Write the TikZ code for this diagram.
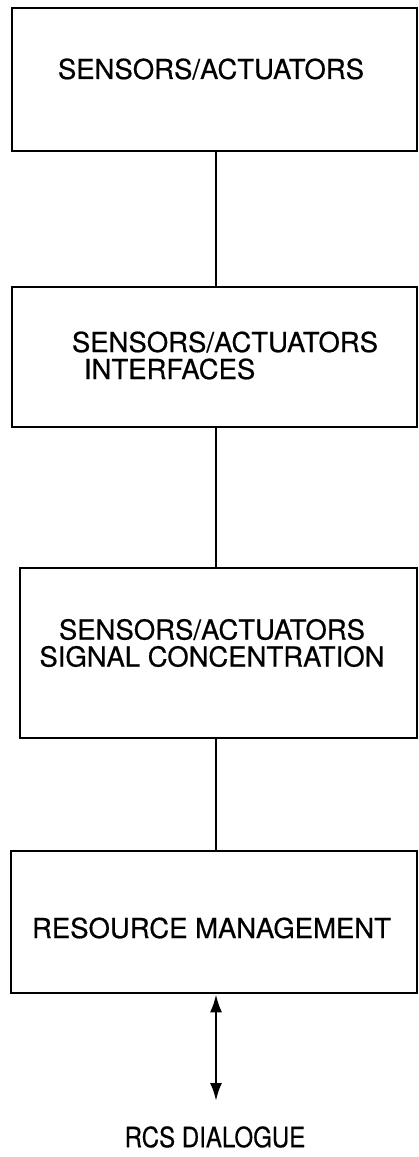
\documentclass[tikz,border=0pt]{standalone}
\usepackage{fontspec}
\newfontfamily\stageheros[FakeBold=0.5]{TeX Gyre Heros}
\newfontfamily\narrowheros[FakeStretch=0.86,FakeBold=0.5]{TeX Gyre Heros}
\usetikzlibrary{arrows.meta,calc}

\begin{document}
\begin{tikzpicture}[x=1pt,y=-1pt,
  stagebox/.style={draw=black,line width=2.5pt,inner sep=0pt},
  boxtext/.style={inner sep=0pt,font=\stageheros\fontsize{27.5}{27}\selectfont},
  link/.style={draw=black,line width=2.5pt},
  tip/.tip={Latex[length=18pt,width=12pt]},
  duplex/.style={link,tip-tip}]
  \useasboundingbox (0,0) rectangle (419,1157);

  % vertical spine through the chain of stages
  \coordinate (spine) at (216,0);

  % stage boxes
  \node[stagebox,minimum width=405pt,minimum height=143pt] (b1) at (214.5,79.5) {};
  \node[stagebox,minimum width=405pt,minimum height=140pt] (b2) at (214.5,357) {};
  \node[stagebox,minimum width=397pt,minimum height=170pt] (b3) at (218.5,653) {};
  \node[stagebox,minimum width=406pt,minimum height=142pt] (b4) at (214,922) {};

  % stage labels
  \node[boxtext] (t1) at (211,69) {SENSORS/ACTUATORS};
  \node[boxtext,align=left] (t2) at (225,355.5) {SENSORS/ACTUATORS\\\hspace*{12pt}INTERFACES};
  \node[boxtext,align=center] (t3) at (212,643) {SENSORS/ACTUATORS\\SIGNAL CONCENTRATION};
  \node[boxtext] (t4) at (211.5,928) {RESOURCE MANAGEMENT};

  % external dialogue end point
  \node[inner sep=0pt,font=\narrowheros\fontsize{28}{28}\selectfont] (rcs) at (215,1137) {RCS DIALOGUE};
  \coordinate (dlg) at (216,1101);

  % connectors
  \draw[link] (b1.south -| spine) -- (b2.north -| spine);
  \draw[link] (b2.south -| spine) -- (b3.north -| spine);
  \draw[link] (b3.south -| spine) -- (b4.north -| spine);
  \draw[duplex] (b4.south -| spine) -- (dlg);
\end{tikzpicture}
\end{document}
